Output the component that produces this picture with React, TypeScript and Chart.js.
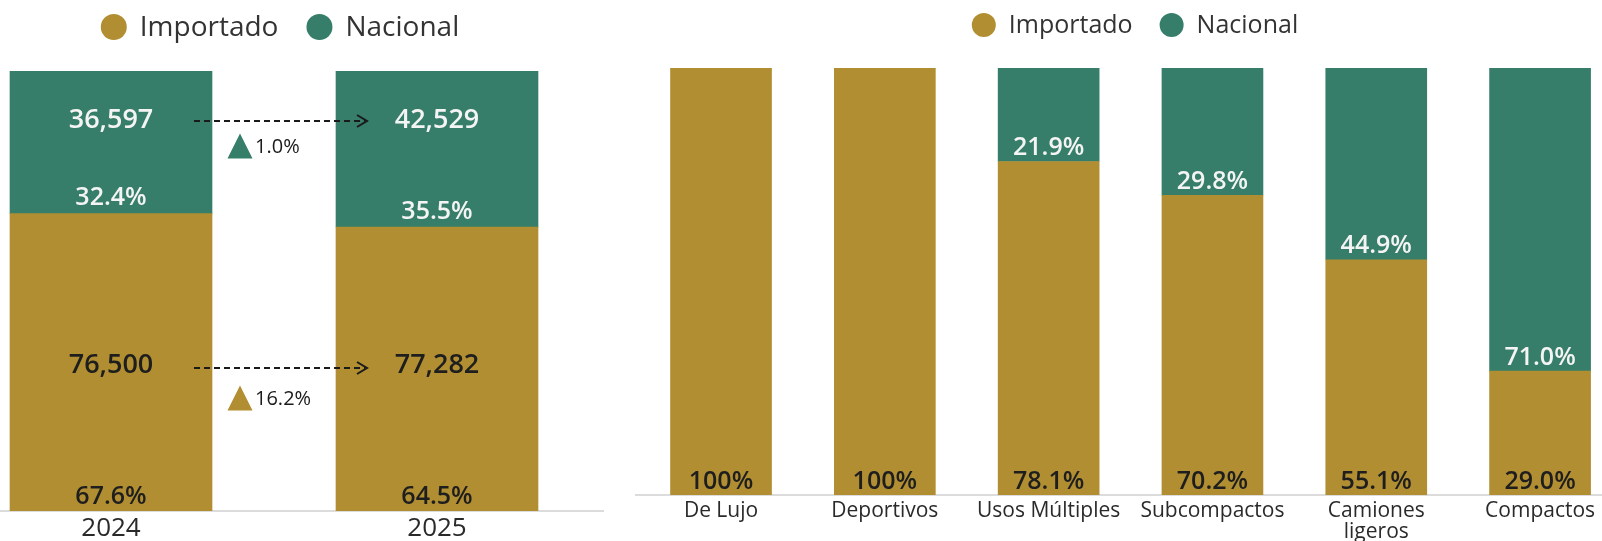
import React, { useEffect, useRef } from 'react';
import { Chart, registerables } from 'chart.js';

Chart.register(...registerables);

const GOLD = '#B18E31';
const TEAL = '#367E69';
const FONT = '"Open Sans", "Noto Sans", sans-serif';
const DARK = '#1e1e1e';
const LIGHT = '#f4f4f4';

// Left chart data
const years: string[] = ['2024', '2025'];
const importadoUnits: number[] = [76500, 77282];
const nacionalUnits: number[] = [36597, 42529];
const importadoShare: number[] = [67.6, 64.5];
const nacionalShare: number[] = [32.4, 35.5];
const nacionalChange: string[] = ['1.0%'];
const importadoChange: string[] = ['16.2%'];

// Right chart data
const segments: (string | string[])[] = ['De Lujo', 'Deportivos', 'Usos Múltiples', 'Subcompactos', ['Camiones', 'ligeros'], 'Compactos'];
const segImportado: number[] = [100, 100, 78.1, 70.2, 55.1, 29.0];
const segNacional: number[] = [0, 0, 21.9, 29.8, 44.9, 71.0];

const seriesLabels: string[] = ['Importado', 'Nacional'];

const fmtPct = (v: number) => (v === 100 ? '100%' : v.toFixed(1) + '%');
const fmtNum = (v: number) => v.toLocaleString('en-US');

function legendPlugin(centerX: number, cy: number, r: number, size: number, itemGap: number) {
  return {
    id: 'customLegend',
    afterDraw(chart: any) {
      const ctx = chart.ctx;
      ctx.save();
      ctx.font = `${size}px ${FONT}`;
      const ds = chart.data.datasets;
      const widths = ds.map((d: any) => ctx.measureText(d.label).width);
      const textGap = 13;
      let total = 0;
      ds.forEach((d: any, i: number) => {
        total += 2 * r + textGap + widths[i];
        if (i < ds.length - 1) total += itemGap;
      });
      let x = centerX - total / 2;
      ds.forEach((d: any, i: number) => {
        ctx.fillStyle = d.backgroundColor;
        ctx.beginPath();
        ctx.arc(x + r, cy, r, 0, Math.PI * 2);
        ctx.fill();
        ctx.fillStyle = '#333333';
        ctx.textAlign = 'left';
        ctx.textBaseline = 'middle';
        ctx.fillText(d.label, x + 2 * r + textGap, cy + 1);
        x += 2 * r + textGap + widths[i] + itemGap;
      });
      ctx.restore();
    },
  };
}

const leftLabelsPlugin = {
  id: 'leftLabels',
  afterDatasetsDraw(chart: any) {
    const ctx = chart.ctx;
    const imp = chart.getDatasetMeta(0).data;
    const nac = chart.getDatasetMeta(1).data;
    ctx.save();
    ctx.textAlign = 'center';
    ctx.textBaseline = 'middle';
    const nacY: number[] = [];
    const impY: number[] = [];
    imp.forEach((el: any, i: number) => {
      const pi = el.getProps(['x', 'y', 'base', 'width'], true);
      const pn = nac[i].getProps(['x', 'y', 'base', 'width'], true);
      ctx.fillStyle = LIGHT;
      ctx.font = `600 27px ${FONT}`;
      const ny = pn.y + 49;
      nacY.push(ny);
      ctx.fillText(fmtNum(nacionalUnits[i]), pn.x, ny);
      ctx.font = `600 25px ${FONT}`;
      ctx.fillText(fmtPct(nacionalShare[i]), pn.x, pn.base - 15.5);
      ctx.fillStyle = DARK;
      ctx.font = `600 27px ${FONT}`;
      const iy = pi.base - 146;
      impY.push(iy);
      ctx.fillText(fmtNum(importadoUnits[i]), pi.x, iy);
      ctx.font = `600 25px ${FONT}`;
      ctx.fillText(fmtPct(importadoShare[i]), pi.x, pi.base - 14);
    });
    for (let i = 0; i < imp.length - 1; i++) {
      const a = imp[i].getProps(['x', 'width'], true);
      const b = imp[i + 1].getProps(['x', 'width'], true);
      const x0 = a.x + a.width / 2 - 18;
      const x1 = b.x - b.width / 2 + 31;
      const rows = [
        { y: nacY[i] + 1, color: TEAL, text: nacionalChange[i], triY: nacY[i] + 26 },
        { y: impY[i] + 3, color: GOLD, text: importadoChange[i], triY: impY[i] + 33 },
      ];
      rows.forEach((r) => {
        ctx.strokeStyle = '#1a1a1a';
        ctx.lineWidth = 2;
        ctx.setLineDash([6, 4]);
        ctx.beginPath();
        ctx.moveTo(x0, r.y);
        ctx.lineTo(x1 - 2, r.y);
        ctx.stroke();
        ctx.setLineDash([]);
        ctx.beginPath();
        ctx.moveTo(x1 - 10, r.y - 6);
        ctx.lineTo(x1, r.y);
        ctx.lineTo(x1 - 10, r.y + 6);
        ctx.stroke();
        const cx = a.x + a.width / 2 + 28;
        ctx.fillStyle = r.color;
        ctx.beginPath();
        ctx.moveTo(cx, r.triY - 12.5);
        ctx.lineTo(cx + 12.5, r.triY + 12.5);
        ctx.lineTo(cx - 12.5, r.triY + 12.5);
        ctx.closePath();
        ctx.fill();
        ctx.fillStyle = '#1a1a1a';
        ctx.font = `20px ${FONT}`;
        ctx.textAlign = 'left';
        ctx.fillText(r.text, cx + 15, r.triY + 1);
        ctx.textAlign = 'center';
      });
    }
    ctx.restore();
  },
};

const rightLabelsPlugin = {
  id: 'rightLabels',
  afterDatasetsDraw(chart: any) {
    const ctx = chart.ctx;
    const imp = chart.getDatasetMeta(0).data;
    ctx.save();
    ctx.textAlign = 'center';
    ctx.textBaseline = 'middle';
    ctx.font = `600 25px ${FONT}`;
    imp.forEach((el: any, i: number) => {
      const p = el.getProps(['x', 'y', 'base'], true);
      ctx.fillStyle = DARK;
      ctx.fillText(fmtPct(segImportado[i]), p.x, p.base - 13);
      if (segNacional[i] > 0) {
        ctx.fillStyle = LIGHT;
        ctx.fillText(fmtPct(segNacional[i]), p.x, p.y - 13.5);
      }
    });
    ctx.restore();
  },
};

export default function App() {
  const leftRef = useRef<HTMLCanvasElement>(null);
  const rightRef = useRef<HTMLCanvasElement>(null);

  useEffect(() => {
    const left = new Chart(leftRef.current as HTMLCanvasElement, {
      type: 'bar',
      data: {
        datasets: [
          {
            label: seriesLabels[0],
            data: importadoShare.map((v, i) => ({ x: i, y: v })),
            backgroundColor: GOLD,
            barThickness: 202,
          },
          {
            label: seriesLabels[1],
            data: nacionalShare.map((v, i) => ({ x: i, y: v })),
            backgroundColor: TEAL,
            barThickness: 202,
          },
        ],
      },
      options: {
        responsive: false,
        animation: false,
        devicePixelRatio: 1,
        events: [],
        layout: { padding: { top: 71, left: 0, right: 7, bottom: 0 } },
        plugins: { legend: { display: false }, tooltip: { enabled: false } },
        scales: {
          x: {
            type: 'linear',
            min: -0.3405,
            max: 1.5092,
            offset: false,
            stacked: true,
            grid: { display: false, drawTicks: false },
            border: { display: true, color: '#dcdcdc', width: 2 },
            afterBuildTicks: (s: any) => {
              s.ticks = years.map((_, i) => ({ value: i }));
            },
            afterFit: (s: any) => {
              s.height = 30;
            },
            ticks: {
              callback: (v: any) => years[v],
              font: { family: FONT, size: 26, lineHeight: 1, weight: '500' },
              color: '#2a2a2a',
              padding: 5,
              maxRotation: 0,
              autoSkip: false,
            },
          },
          y: { stacked: true, min: 0, max: 100, display: false },
        },
      } as any,
      plugins: [leftLabelsPlugin, legendPlugin(280, 27, 13, 28, 28)],
    });

    const right = new Chart(rightRef.current as HTMLCanvasElement, {
      type: 'bar',
      data: {
        datasets: [
          {
            label: seriesLabels[0],
            data: segImportado.map((v, i) => ({ x: i, y: v })),
            backgroundColor: GOLD,
            barThickness: 101,
          },
          {
            label: seriesLabels[1],
            data: segNacional.map((v, i) => ({ x: i, y: v })),
            backgroundColor: TEAL,
            barThickness: 101,
          },
        ],
      },
      options: {
        responsive: false,
        animation: false,
        devicePixelRatio: 1,
        events: [],
        layout: { padding: { top: 68, left: 16, right: 0, bottom: 0 } },
        plugins: { legend: { display: false }, tooltip: { enabled: false } },
        scales: {
          x: {
            type: 'linear',
            min: -0.519,
            max: 5.378,
            offset: false,
            stacked: true,
            grid: { display: false, drawTicks: false },
            border: { display: true, color: '#dcdcdc', width: 2 },
            afterBuildTicks: (s: any) => {
              s.ticks = segments.map((_, i) => ({ value: i }));
            },
            afterFit: (s: any) => {
              s.height = 46;
            },
            ticks: {
              callback: (v: any) => segments[v],
              font: { family: FONT, size: 21, lineHeight: 1, weight: '500' },
              color: '#2a2a2a',
              padding: 6,
              maxRotation: 0,
              autoSkip: false,
            },
          },
          y: { stacked: true, min: 0, max: 100, display: false },
        },
      } as any,
      plugins: [rightLabelsPlugin, legendPlugin(515, 25, 12, 25, 27)],
    });

    return () => {
      left.destroy();
      right.destroy();
    };
  }, []);

  return (
    <div style={{ position: 'absolute', left: 0, top: 0, width: 1602, height: 541, background: '#ffffff', overflow: 'hidden' }}>
      <canvas ref={leftRef} width={610} height={541} style={{ position: 'absolute', left: 0, top: 0, display: 'block' }} />
      <canvas ref={rightRef} width={982} height={541} style={{ position: 'absolute', left: 620, top: 0, display: 'block' }} />
    </div>
  );
}
